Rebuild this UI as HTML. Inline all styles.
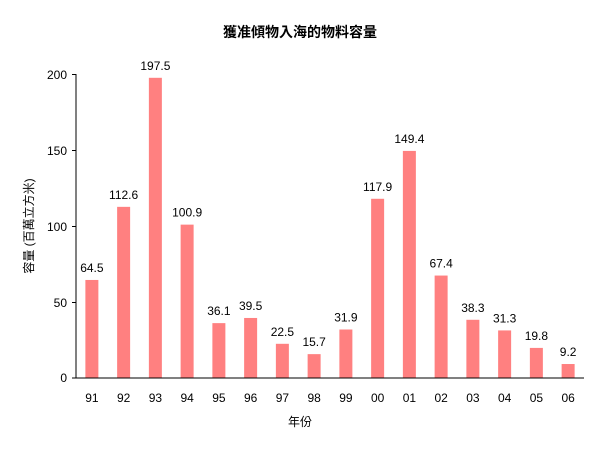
<!DOCTYPE html>
<html><head><meta charset="utf-8"><style>body{margin:0;background:#fff}</style></head><body>
<svg width="600" height="451" xmlns="http://www.w3.org/2000/svg" font-family="Liberation Sans, Noto Sans CJK TC, sans-serif" font-size="12">
<text x="300" y="37" text-anchor="middle" font-size="14" font-weight="bold" font-family="Noto Sans CJK TC, sans-serif">獲准傾物入海的物料容量</text>
<g id="bars" fill="#ff8080"></g>
<line x1="76" y1="74" x2="76" y2="378" stroke="#000"/>
<line x1="76" y1="378" x2="584" y2="378" stroke="#000"/>
<g stroke="#000">
<line x1="72" y1="74.5" x2="76" y2="74.5"/><line x1="72" y1="150.5" x2="76" y2="150.5"/><line x1="72" y1="226.5" x2="76" y2="226.5"/><line x1="72" y1="302.5" x2="76" y2="302.5"/><line x1="72" y1="378" x2="76" y2="378"/>
</g>
<g text-anchor="end">
<text x="67" y="79">200</text><text x="67" y="155">150</text><text x="67" y="231">100</text><text x="67" y="307">50</text><text x="67" y="382">0</text>
</g>
<text x="300" y="426" text-anchor="middle" font-family="Noto Sans CJK TC, sans-serif">年份</text>
<text transform="translate(33,226) rotate(-90)" text-anchor="middle" font-family="Liberation Sans, Noto Sans CJK TC, sans-serif">容量 (百萬立方米)</text>
<g id="labels" text-anchor="middle"></g>
<script>
var v=[64.5,112.6,197.5,100.9,36.1,39.5,22.5,15.7,31.9,117.9,149.4,67.4,38.3,31.3,19.8,9.2];
var y=["91","92","93","94","95","96","97","98","99","00","01","02","03","04","05","06"];
var b=document.getElementById("bars"),l=document.getElementById("labels"),ns="http://www.w3.org/2000/svg";
v.forEach(function(d,i){var c=76+31.75*(i+0.5),h=d*1.52;
var r=document.createElementNS(ns,"rect");r.setAttribute("x",c-6.5);r.setAttribute("y",378-h);r.setAttribute("width",13);r.setAttribute("height",h);b.appendChild(r);
var t=document.createElementNS(ns,"text");t.setAttribute("x",c);t.setAttribute("y",378-h-8);t.textContent=d.toFixed(1);l.appendChild(t);
var t2=document.createElementNS(ns,"text");t2.setAttribute("x",c);t2.setAttribute("y",402);t2.textContent=y[i];l.appendChild(t2);});
</script>
</svg>
</body></html>
